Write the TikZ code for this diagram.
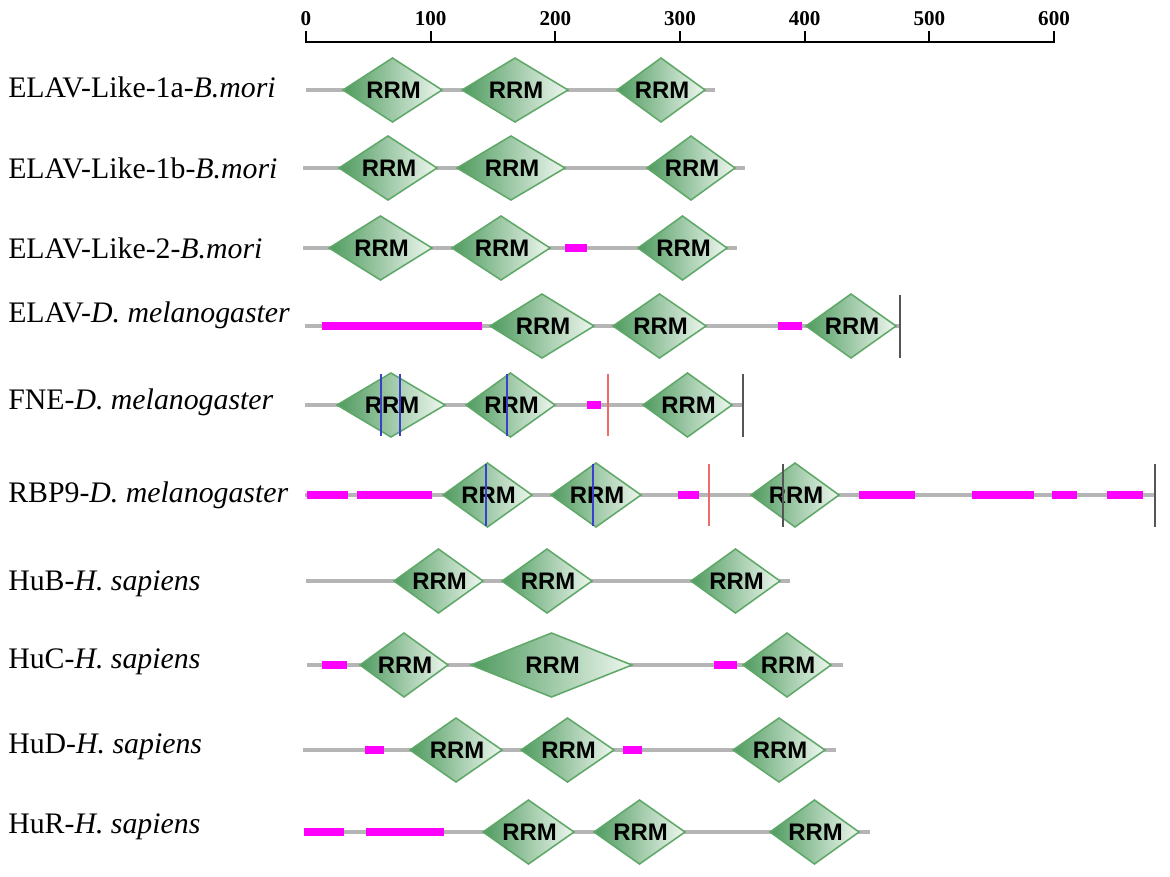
\documentclass[tikz,border=0pt]{standalone}
\usepackage{fontspec}
\setmainfont{Liberation Serif}
\newfontfamily\domfont{Liberation Sans}
\usetikzlibrary{positioning}
\definecolor{rrmdark}{HTML}{4F9B5F}
\definecolor{rrmlight}{HTML}{EEF7EF}
\definecolor{rrmedge}{HTML}{5FA868}
\definecolor{backbone}{HTML}{B5B5B5}
\definecolor{lowcx}{HTML}{FF00FF}
\definecolor{site}{HTML}{3A3FD0}
\definecolor{cut}{HTML}{F06A6A}
\definecolor{stopbar}{HTML}{555555}

\tikzset{
  protline/.style={backbone,line width=3.2pt},
  lowc/.style={lowcx,line width=6pt},
  rrmshape/.style={draw=rrmedge,line width=1.1pt,left color=rrmdark,right color=rrmlight},
  rrmlabel/.style={font=\domfont\bfseries\fontsize{17}{17}\selectfont,inner sep=0pt},
  rowlabel/.style={font=\fontsize{21.2}{24}\selectfont,anchor=base west,inner sep=0pt},
  axisnum/.style={font=\bfseries\fontsize{15}{15}\selectfont,inner sep=0pt},
  siteline/.style={line width=1.3pt}
}

\begin{document}
\begin{tikzpicture}[x=0.025cm,y=-0.025cm]
\useasboundingbox (0,0) rectangle (1170,876);
% scale
\draw[line width=2.1pt] (306,42) -- (1054,42);
\foreach \t/\v in {0/0,1/100,2/200,3/300,4/400,5/500,6/600}{
  \draw[line width=1.5pt] ({306+124.67*\t},31) -- ({306+124.67*\t},43);
  \node[axisnum] (num\t) at ({306+124.67*\t},19) {\v};
}
% proteins
\foreach \y/\b/\e/\base/\txt in {
  90/306/715/97/{ELAV-Like-1a-\textit{B.mori}},
  168/303/745/178/{ELAV-Like-1b-\textit{B.mori}},
  248/303/737/258/{ELAV-Like-2-\textit{B.mori}},
  326/305/900/322/{ELAV-\textit{D.\ melanogaster}},
  405/305/743/409/{FNE-\textit{D.\ melanogaster}},
  495/305/1155/502/{RBP9-\textit{D.\ melanogaster}},
  581/306/790/590/{HuB-\textit{H.\ sapiens}},
  665/307/843/668/{HuC-\textit{H.\ sapiens}},
  750/303/836/753/{HuD-\textit{H.\ sapiens}},
  832/304/870/833/{HuR-\textit{H.\ sapiens}}}{
  \draw[protline] (\b,\y) -- (\e,\y);
  \node[rowlabel] (lab\y) at (8,\base) {\txt};
}
% low complexity
\foreach \y/\l/\r in {248/565/587, 326/322/482, 326/778/802, 405/587/601,
  495/307/348, 495/357/432, 495/678/699, 495/859/915, 495/972/1034,
  495/1052/1077, 495/1107/1143, 665/322/347, 665/714/737,
  750/365/384, 750/623/642, 832/304/344, 832/366/444}{
  \draw[lowc] (\l,\y) -- (\r,\y);
}
% RRM domains
\foreach \y/\l/\r in {90/343/442, 90/462/568, 90/617/705,
  168/339/437, 168/457/565, 168/647/735,
  248/329/432, 248/452/550, 248/638/727,
  326/490/594, 326/613/706, 326/806/896,
  405/337/445, 405/466/555, 405/643/732,
  495/443/532, 495/551/641, 495/751/839,
  581/394/483, 581/502/592, 581/691/780,
  665/360/448, 665/471/632, 665/743/831,
  750/410/502, 750/521/614, 750/733/825,
  832/483/574, 832/594/685, 832/770/859}{
  \shade[rrmshape] (\l,\y) -- ({(\l+\r)/2},\y-32) -- (\r,\y) -- ({(\l+\r)/2},\y+32) -- cycle;
  \node[rrmlabel] (rrm-\y-\l) at ({(\l+\r)/2+1},\y) {RRM};
}
% sites and ends
\foreach \x/\y/\c in {381/405/site, 400/405/site, 507/405/site, 608/405/cut,
  486/495/site, 593/495/site, 709/495/cut}{
  \draw[siteline,\c] (\x,\y-31) -- (\x,\y+31);
}
\foreach \x/\y in {900/326, 743/405, 783/495, 1155/495}{
  \draw[siteline,stopbar,line width=1.6pt] (\x,\y-31) -- (\x,\y+32);
}
\end{tikzpicture}
\end{document}
